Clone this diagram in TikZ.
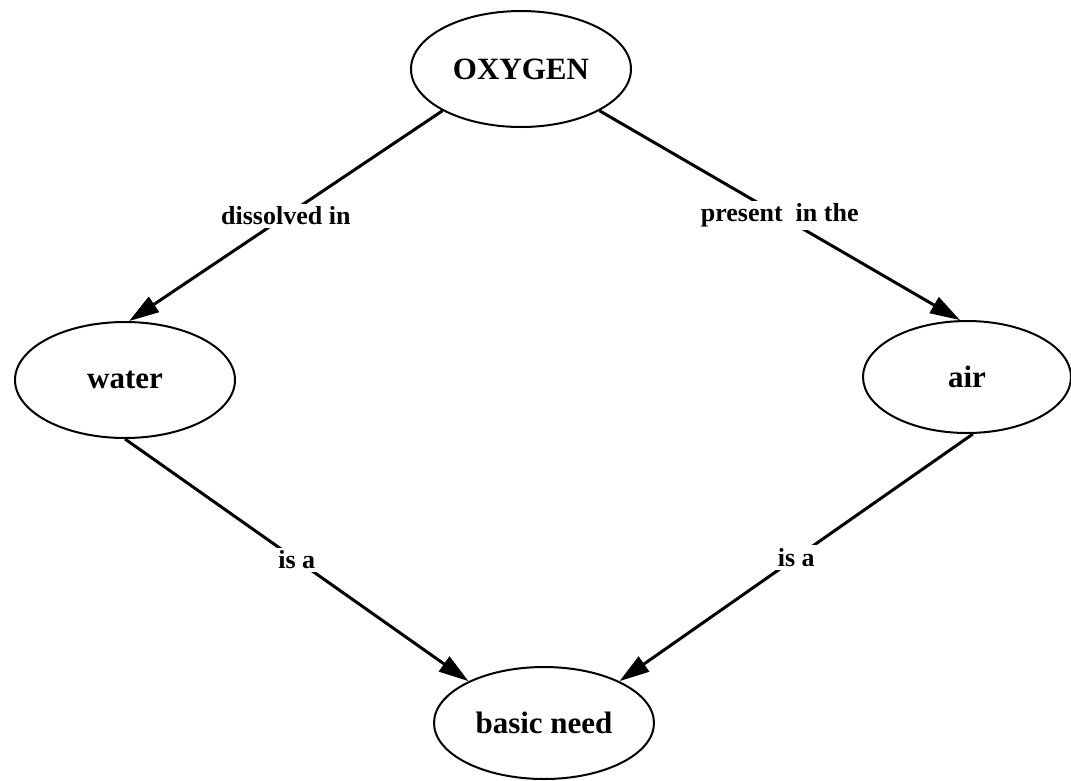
\documentclass[tikz,border=0pt]{standalone}
\usepackage{fontspec}
\setmainfont{Liberation Serif}
\usetikzlibrary{shapes.geometric,arrows.meta}
\tikzset{
  concept/.style={ellipse, draw, line width=2pt, inner sep=0pt,
    minimum width=220pt, minimum height=116pt,
    font=\fontsize{31}{31}\selectfont\bfseries},
  link/.style={line width=3pt, -{Triangle[length=30pt,width=18pt]}},
  linklabel/.style={fill=white, inner sep=3pt,
    font=\fontsize{26}{26}\selectfont\bfseries}
}
\begin{document}
\begin{tikzpicture}[x=1pt,y=-1pt]
\useasboundingbox (0,0) rectangle (1071,780);
\node[concept] (oxy)   at (521,69)  {OXYGEN};
\node[concept] (water) at (125,380) {water};
\node[concept, minimum width=208pt, minimum height=112pt] (air) at (967,377) {air};
\node[concept, minimum height=112pt] (need)  at (544,723) {basic need};

\draw[link] (oxy.208) -- node[linklabel] {dissolved in} (water.86);
\draw[link] (oxy.-28) -- node[linklabel] {present\ \ in the} (air.97);
\draw[link] (water.-90) -- node[linklabel] {is a} (need.151);
\draw[link] (air.-84) -- node[linklabel] {is a} (need.29);
\end{tikzpicture}
\end{document}
